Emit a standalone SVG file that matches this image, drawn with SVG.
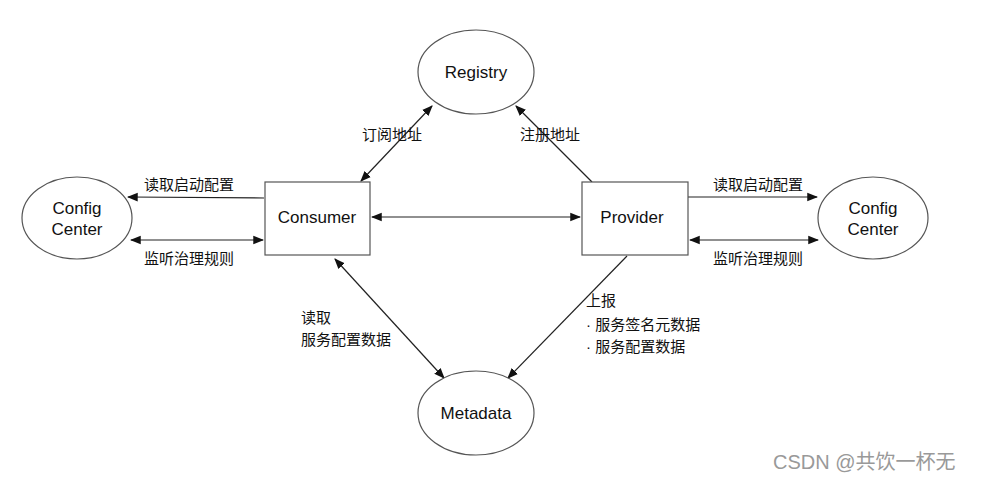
<svg xmlns="http://www.w3.org/2000/svg" width="987" height="482" viewBox="0 0 987 482">
<style>
.n{fill:#fff;stroke:#555;stroke-width:1.2}
.t{font-family:"Liberation Sans","Noto Sans CJK SC",sans-serif;font-size:17px;fill:#111;text-anchor:middle}
.l{font-family:"Liberation Sans","Noto Sans CJK SC",sans-serif;font-size:15px;fill:#111}
.c{fill:none;stroke:#222;stroke-width:1.2}
</style>
<defs>
<marker id="a" viewBox="0 0 10 10" refX="9" refY="5" markerWidth="9" markerHeight="9" orient="auto-start-reverse"><path d="M0,1 L10,5 L0,9 Z" fill="#111"/></marker>
</defs>
<rect width="987" height="482" fill="#fff"/>
<g id="connectors">
<line class="c" x1="361" y1="181" x2="432" y2="106" marker-start="url(#a)" marker-end="url(#a)"/>
<line class="c" x1="592" y1="182" x2="516" y2="106" marker-end="url(#a)"/>
<line class="c" x1="372" y1="217" x2="580" y2="217" marker-start="url(#a)" marker-end="url(#a)"/>
<path class="c" d="M264,198 L128,197" marker-end="url(#a)"/>
<line class="c" x1="131" y1="240" x2="263" y2="240" marker-start="url(#a)" marker-end="url(#a)"/>
<line class="c" x1="688" y1="197" x2="817" y2="197" marker-end="url(#a)"/>
<line class="c" x1="690" y1="240" x2="818" y2="240" marker-start="url(#a)" marker-end="url(#a)"/>
<line class="c" x1="335" y1="259" x2="444" y2="378" marker-start="url(#a)" marker-end="url(#a)"/>
<line class="c" x1="627" y1="256" x2="508" y2="378" marker-end="url(#a)"/>
</g>
<g id="registry"><ellipse class="n" cx="476" cy="72" rx="58" ry="42"/><text class="t" x="476" y="78">Registry</text></g>
<g id="metadata"><ellipse class="n" cx="476" cy="413" rx="58" ry="42"/><text class="t" x="476" y="419">Metadata</text></g>
<g id="configL"><ellipse class="n" cx="77" cy="218" rx="55" ry="41"/><text class="t" x="77" y="214">Config</text><text class="t" x="77" y="235">Center</text></g>
<g id="configR"><ellipse class="n" cx="873" cy="218" rx="55" ry="41"/><text class="t" x="873" y="214">Config</text><text class="t" x="873" y="235">Center</text></g>
<g id="consumer"><rect class="n" x="265" y="182" width="105" height="73"/><text class="t" x="317" y="223">Consumer</text></g>
<g id="provider"><rect class="n" x="582" y="182" width="106" height="73"/><text class="t" x="632" y="223">Provider</text></g>
<g id="labels">
<text class="l" x="362" y="140">订阅地址</text>
<text class="l" x="520" y="140">注册地址</text>
<text class="l" x="144" y="190">读取启动配置</text>
<text class="l" x="144" y="264">监听治理规则</text>
<text class="l" x="713" y="190">读取启动配置</text>
<text class="l" x="713" y="264">监听治理规则</text>
<text class="l" x="301" y="323">读取</text>
<text class="l" x="301" y="345">服务配置数据</text>
<text class="l" x="586" y="306">上报</text>
<text class="l" x="586" y="330">· 服务签名元数据</text>
<text class="l" x="586" y="352">· 服务配置数据</text>
<text class="l" x="773" y="469" style="fill:#999;font-size:20px">CSDN @共饮一杯无</text>
</g>
</svg>
